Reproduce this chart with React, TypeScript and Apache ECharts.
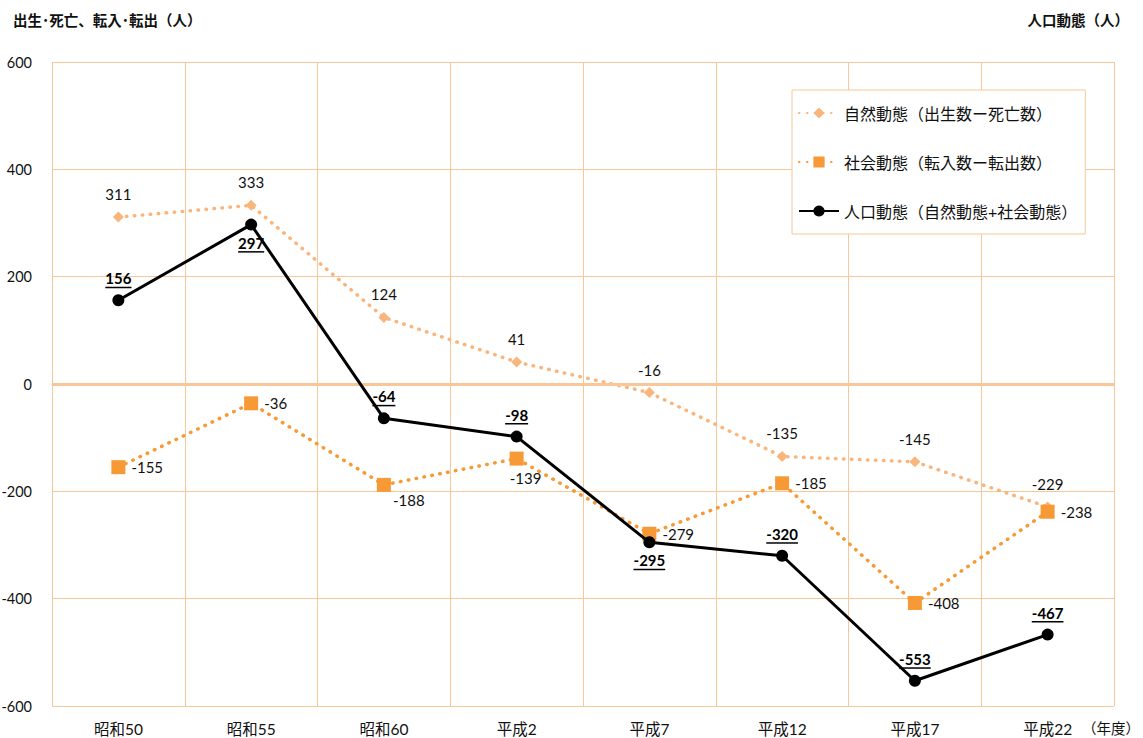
import React, { useEffect, useRef } from "react";
import * as echarts from "echarts";

const categories = ["昭和50", "昭和55", "昭和60", "平成2", "平成7", "平成12", "平成17", "平成22"];
const naturalChange = [311, 333, 124, 41, -16, -135, -145, -229];
const socialChange = [-155, -36, -188, -139, -279, -185, -408, -238];
const populationChange = [156, 297, -64, -98, -295, -320, -553, -467];
const yTicks = { min: -600, max: 600, interval: 200 };

const seriesNames = [
  "自然動態（出生数ー死亡数）",
  "社会動態（転入数ー転出数）",
  "人口動態（自然動態+社会動態）",
];

const popLabelSide = ["top", "bottom", "top", "top", "bottom", "top", "top", "top"];

const FONT = "Lato, 'Noto Sans CJK JP', sans-serif";
const GRID_COLOR = "#F9C697";
const DOTS = [0.5, 7.5];

function measure(text: string, font: string): number {
  const c = document.createElement("canvas").getContext("2d");
  if (!c) return text.length * 8;
  c.font = font;
  return c.measureText(text).width;
}

export default function App() {
  const ref = useRef<HTMLDivElement>(null);
  useEffect(() => {
    if (!ref.current) return;
    const chart = echarts.init(ref.current, undefined, { renderer: "svg" });

    const socialData = socialChange.map((v, i) => {
      const item: any = { value: v };
      if (i === 2) item.label = { position: "bottom", offset: [25, -5] };
      if (i === 3) item.label = { position: "bottom", offset: [9, -1] };
      return item;
    });

    const option: any = {
      animation: false,
      textStyle: { fontFamily: FONT },
      title: [
        {
          text: "出生･死亡、転入･転出（人）",
          left: 8,
          top: 8,
          textStyle: { fontSize: 14.5, fontWeight: "bold", color: "#111", fontFamily: FONT },
        },
        {
          text: "人口動態（人）",
          right: 9,
          top: 8,
          textStyle: { fontSize: 14.5, fontWeight: "bold", color: "#111", fontFamily: FONT },
        },
      ],
      graphic: [
        {
          type: "text",
          left: 1082,
          top: 721,
          style: { text: "（年度）", fontSize: 14.5, fill: "#111", fontFamily: FONT },
        },
      ],
      legend: {
        orient: "vertical",
        left: 792,
        top: 90,
        width: 295,
        backgroundColor: "#fff",
        borderColor: GRID_COLOR,
        borderWidth: 1,
        padding: [15, 8, 15, 6],
        itemGap: 33,
        itemWidth: 40,
        itemHeight: 14,
        textStyle: { fontSize: 16, color: "#111", fontFamily: FONT },
        data: seriesNames,
      },
      grid: {
        left: 52,
        right: 29,
        top: 62,
        bottom: 32,
        containLabel: false,
        outerBoundsMode: "none",
      },
      xAxis: {
        type: "category",
        data: categories,
        boundaryGap: true,
        axisLine: { show: true, lineStyle: { color: GRID_COLOR, width: 1 } },
        axisTick: { show: false },
        splitLine: { show: true, lineStyle: { color: GRID_COLOR, width: 1 } },
        axisLabel: { color: "#111", fontSize: 15.5, margin: 15, fontFamily: FONT },
      },
      yAxis: {
        type: "value",
        min: yTicks.min,
        max: yTicks.max,
        interval: yTicks.interval,
        axisLine: { show: false },
        axisTick: { show: false },
        splitLine: { show: true, lineStyle: { color: GRID_COLOR, width: 1 } },
        axisLabel: { color: "#111", fontSize: 14.5, margin: 20, fontFamily: FONT },
      },
      series: [
        {
          name: seriesNames[0],
          type: "line",
          data: naturalChange,
          symbol: "diamond",
          symbolSize: 11,
          itemStyle: { color: "#FAB57C" },
          lineStyle: { color: "#FAB57C", width: 3.5, type: DOTS, cap: "round" },
          label: {
            show: true,
            position: "top",
            distance: 10,
            color: "#111",
            fontSize: 15,
            fontFamily: FONT,
          },
          markLine: {
            silent: true,
            symbol: ["none", "none"],
            label: { show: false },
            lineStyle: { color: GRID_COLOR, width: 3, type: "solid", cap: "butt" },
            data: [{ yAxis: 0 }],
          },
          z: 3,
        },
        {
          name: seriesNames[1],
          type: "line",
          data: socialData,
          symbol: "rect",
          symbolSize: 14,
          itemStyle: { color: "#F79A35" },
          lineStyle: { color: "#F79A35", width: 3.5, type: DOTS, cap: "round" },
          label: {
            show: true,
            position: "right",
            distance: 6,
            color: "#111",
            fontSize: 15,
            fontFamily: FONT,
          },
          z: 4,
        },
        {
          name: seriesNames[2],
          type: "line",
          data: populationChange,
          symbol: "circle",
          symbolSize: 12,
          itemStyle: { color: "#000" },
          lineStyle: { color: "#000", width: 3 },
          z: 5,
        },
        {
          name: "popLabels",
          type: "custom",
          silent: true,
          z: 6,
          data: populationChange.map((v, i) => [i, v]),
          renderItem: (params: any, api: any) => {
            const i = api.value(0);
            const v = api.value(1);
            const p = api.coord([i, v]);
            const side = popLabelSide[params.dataIndex];
            const cy = p[1] + (side === "top" ? -22 : 18);
            const text = String(v);
            const w = measure(text, `bold 15px ${FONT}`);
            return {
              type: "group",
              children: [
                {
                  type: "text",
                  x: p[0],
                  y: cy,
                  style: {
                    text,
                    fill: "#000",
                    fontSize: 15,
                    fontWeight: "bold",
                    fontFamily: FONT,
                    align: "center",
                    verticalAlign: "middle",
                  },
                },
                {
                  type: "rect",
                  shape: { x: p[0] - w / 2, y: cy + 8.5, width: w, height: 1.5 },
                  style: { fill: "#000" },
                },
              ],
            };
          },
        },
      ],
    };
    chart.setOption(option);
    return () => chart.dispose();
  }, []);
  return (
    <div
      ref={ref}
      style={{ position: "fixed", left: 0, top: 0, width: 1143, height: 738, background: "#fff" }}
    />
  );
}
